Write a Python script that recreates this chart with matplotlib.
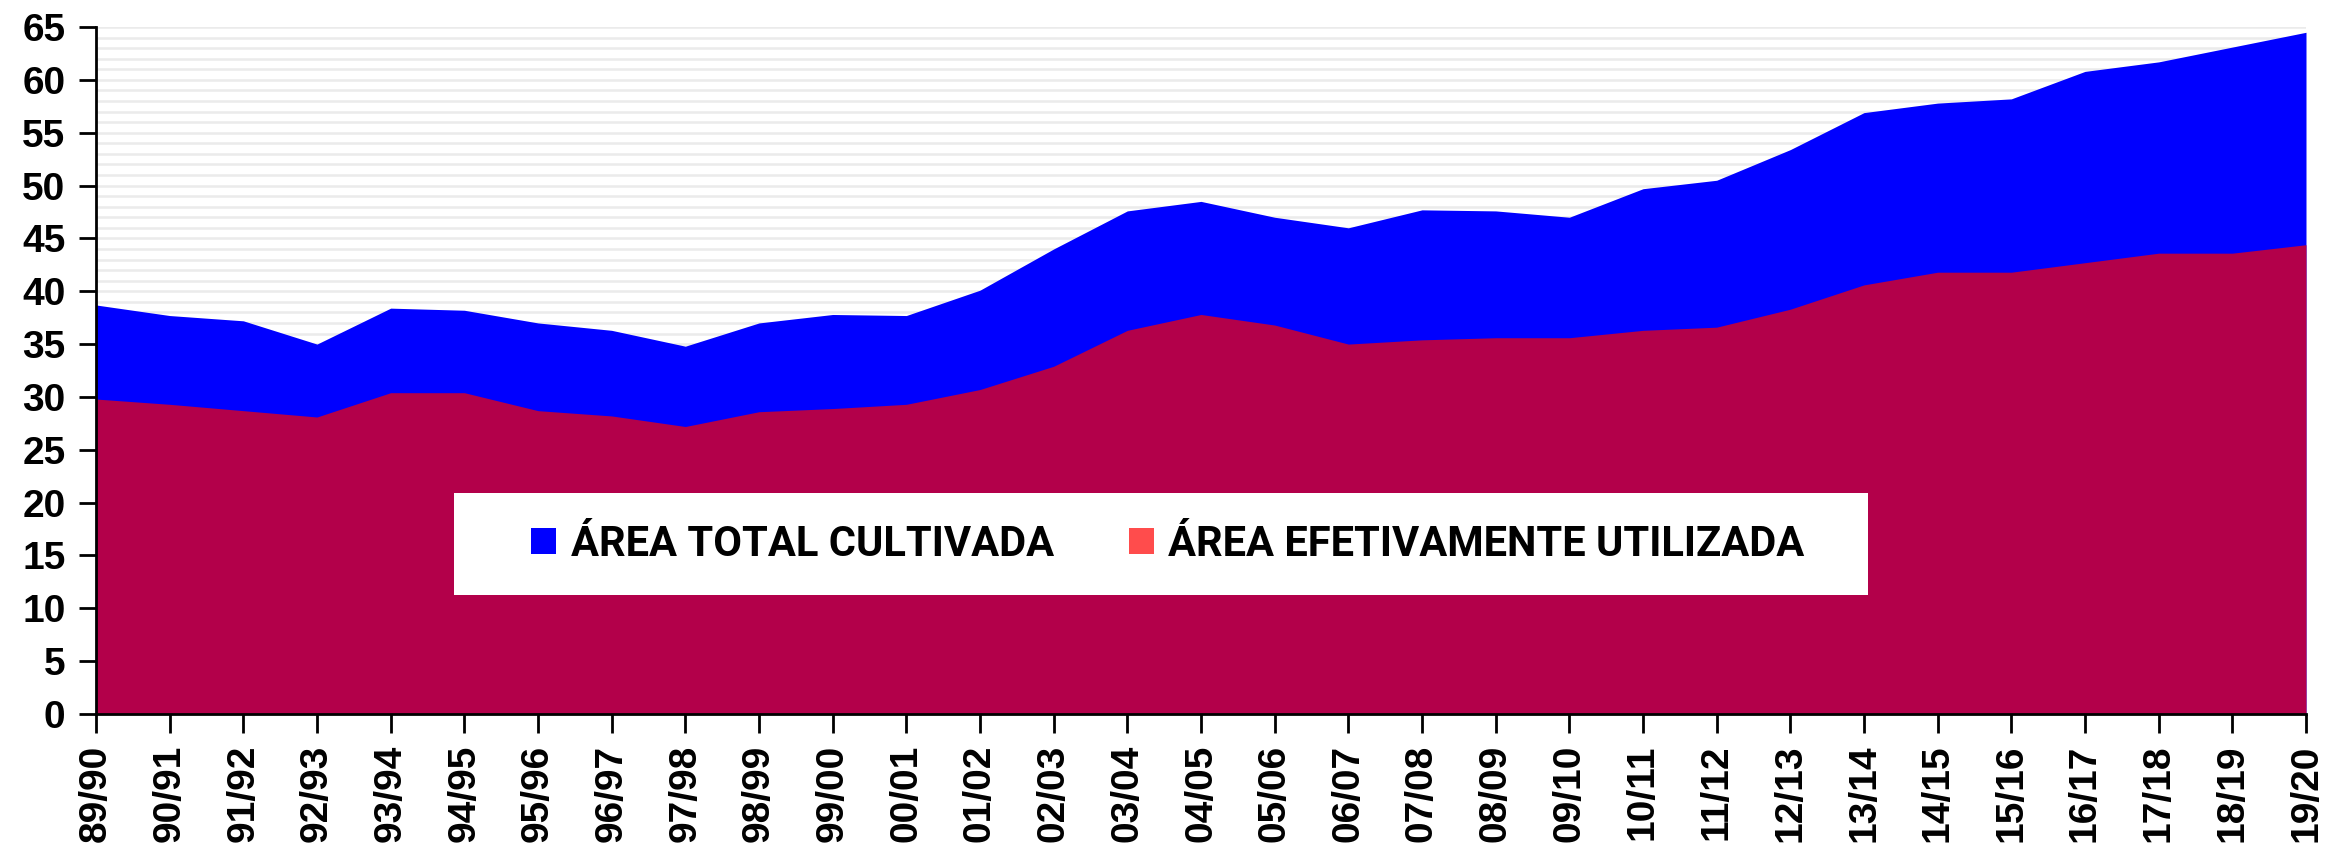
import numpy as np
import matplotlib.pyplot as plt
from matplotlib.patches import Patch, Rectangle

safras = ['89/90', '90/91', '91/92', '92/93', '93/94', '94/95', '95/96', '96/97',
          '97/98', '98/99', '99/00', '00/01', '01/02', '02/03', '03/04', '04/05',
          '05/06', '06/07', '07/08', '08/09', '09/10', '10/11', '11/12', '12/13',
          '13/14', '14/15', '15/16', '16/17', '17/18', '18/19', '19/20']

area_total = [38.7, 37.7, 37.2, 35.0, 38.4, 38.2, 37.0, 36.3, 34.8, 37.0, 37.8,
              37.7, 40.1, 44.0, 47.6, 48.5, 47.0, 46.0, 47.7, 47.6, 47.0, 49.7,
              50.5, 53.4, 56.9, 57.8, 58.2, 60.8, 61.7, 63.1, 64.5]

area_util = [29.8, 29.3, 28.7, 28.1, 30.4, 30.4, 28.7, 28.2, 27.2, 28.6, 28.9,
             29.3, 30.7, 32.9, 36.3, 37.8, 36.8, 35.0, 35.4, 35.6, 35.6, 36.3,
             36.6, 38.3, 40.6, 41.8, 41.8, 42.7, 43.6, 43.6, 44.4]

labels = ['ÁREA TOTAL CULTIVADA', 'ÁREA EFETIVAMENTE UTILIZADA']

blue = '#0000FF'
crimson = '#B3004A'
legend_red = '#FF4C4C'

fig = plt.figure(figsize=(23.28, 8.43), dpi=100)
ax = fig.add_axes([96 / 2328, 1 - 714 / 843, 2210 / 2328, 687 / 843])

x = np.arange(len(safras))
ax.fill_between(x, 0, area_total, color=blue, lw=0, zorder=2)
ax.fill_between(x, 0, area_util, color=crimson, lw=0, zorder=3)

ax.set_xlim(0, len(safras) - 1)
ax.set_ylim(0, 65)
ax.set_yticks(np.arange(0, 66, 5))
ax.set_yticks(np.arange(0, 66, 1), minor=True)
ax.yaxis.grid(True, which='both', color='#EBEBEB', lw=1.8, zorder=0)
ax.set_axisbelow(True)

ax.set_xticks(x)
ax.set_xticklabels(safras, rotation=90)

for lab in ax.get_xticklabels() + ax.get_yticklabels():
    lab.set_fontfamily('Liberation Sans')
    lab.set_fontweight('bold')
    lab.set_fontsize(28)

ax.tick_params(axis='y', which='major', length=12, width=2, pad=10)
ax.tick_params(axis='y', which='minor', length=0)
ax.tick_params(axis='x', length=14, width=2, pad=8)

for s in ['top', 'right']:
    ax.spines[s].set_visible(False)
for s in ['left', 'bottom']:
    ax.spines[s].set_linewidth(2)
    ax.spines[s].set_zorder(5)

# caixa branca da legenda
ax.add_patch(Rectangle((0.162, 0.173), 0.640, 0.149, transform=ax.transAxes,
                       facecolor='white', edgecolor='none', zorder=6))

handles = [Patch(facecolor=blue, edgecolor='none'),
           Patch(facecolor=legend_red, edgecolor='none')]
leg = ax.legend(handles, labels, ncol=2, loc='center', bbox_to_anchor=(0.485, 0.247),
                frameon=False, handlelength=0.6, handleheight=0.6, handletextpad=0.35,
                columnspacing=1.8, prop={'family': 'Roboto', 'weight': 'bold', 'size': 30})
leg.set_zorder(7)

fig.savefig('out.png', dpi=100)
